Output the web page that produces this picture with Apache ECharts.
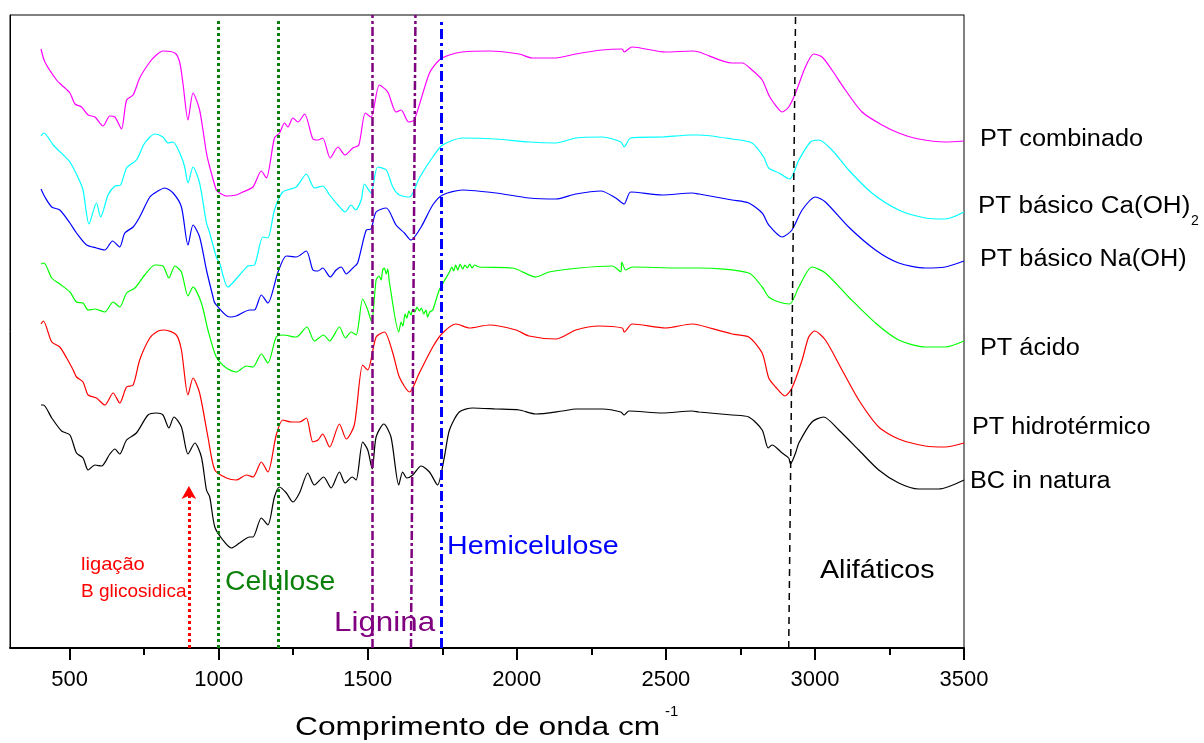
<!DOCTYPE html>
<html>
<head>
<meta charset="utf-8">
<script src="https://cdn.jsdelivr.net/npm/echarts@6/dist/echarts.min.js"></script>
<style>
  html, body { margin: 0; padding: 0; background: #ffffff; }
  #chart { width: 1204px; height: 743px; }
</style>
</head>
<body>
<div id="chart"></div>
<script>
// FTIR spectra, wavenumber (cm-1) vs. stacked transmittance (arbitrary units)
const wavenumberMajorTicks = [500, 1000, 1500, 2000, 2500, 3000, 3500];
const wavenumberMinorTicks = [750, 1250, 1750, 2250, 2750, 3250];

const ptCombinado = [
  [404, 599], [417, 586], [456, 568], [473, 563], [501, 555], [518, 544], [540, 541], [562, 533],
  [585, 531], [612, 522], [635, 532], [652, 531], [674, 519], [691, 548], [713, 553], [735, 570],
  [769, 586], [791, 593], [813, 597], [853, 595], [869, 586], [880, 565], [897, 528], [914, 555],
  [936, 538], [959, 495], [970, 481], [992, 458], [1003, 455], [1026, 452], [1059, 453], [1081, 456],
  [1115, 461], [1143, 477], [1160, 470], [1187, 510], [1204, 515], [1221, 525], [1232, 521], [1249, 530],
  [1266, 526], [1288, 534], [1316, 509], [1333, 508], [1349, 510], [1374, 490], [1400, 501], [1424, 493],
  [1450, 500], [1470, 503], [1492, 535], [1511, 531], [1539, 563], [1567, 556], [1595, 536], [1612, 538],
  [1637, 526], [1656, 528], [1707, 575], [1740, 588], [1774, 593], [1817, 596], [1908, 597], [2008, 594],
  [2052, 590], [2131, 590], [2198, 594], [2286, 598], [2353, 599], [2360, 596], [2386, 601], [2499, 596],
  [2587, 597], [2611, 596], [2722, 585], [2756, 585], [2789, 578], [2823, 568], [2845, 553], [2862, 545],
  [2890, 536], [2912, 541], [2935, 555], [2968, 581], [2996, 594], [3024, 591], [3057, 578], [3102, 558],
  [3158, 536], [3225, 523], [3281, 515], [3348, 509], [3437, 506], [3500, 507]
];

const ptBasicoCaOH2 = [
  [404, 512], [414, 515], [445, 503], [479, 493], [501, 486], [529, 470], [545, 458], [565, 424],
  [590, 445], [604, 431], [629, 453], [652, 462], [671, 463], [691, 480], [724, 488], [752, 505],
  [786, 514], [813, 511], [830, 505], [847, 506], [875, 491], [886, 481], [897, 465], [914, 481],
  [936, 465], [959, 425], [970, 415], [992, 391], [1003, 385], [1031, 361], [1070, 373], [1098, 382],
  [1120, 383], [1148, 411], [1165, 410], [1187, 438], [1215, 456], [1260, 461], [1294, 474], [1321, 460],
  [1349, 462], [1372, 453], [1400, 443], [1424, 436], [1444, 443], [1459, 438], [1478, 448], [1489, 464],
  [1511, 455], [1533, 481], [1562, 478], [1584, 461], [1606, 453], [1640, 451], [1673, 470], [1718, 491],
  [1751, 503], [1818, 510], [1930, 509], [2041, 506], [2131, 505], [2198, 510], [2287, 511], [2349, 506],
  [2360, 501], [2382, 510], [2488, 511], [2588, 513], [2611, 513], [2722, 509], [2789, 505], [2828, 491],
  [2845, 480], [2879, 475], [2915, 469], [2946, 488], [2985, 506], [3013, 508], [3057, 498], [3113, 478],
  [3191, 455], [3281, 438], [3370, 430], [3437, 429], [3500, 436]
];

const ptBasicoNaOH = [
  [404, 459], [417, 451], [440, 441], [467, 438], [501, 425], [523, 415], [557, 403], [590, 400],
  [618, 398], [644, 407], [668, 401], [685, 415], [713, 421], [735, 431], [769, 451], [791, 456],
  [819, 460], [847, 455], [875, 441], [897, 403], [914, 423], [936, 411], [959, 378], [981, 351],
  [987, 345], [1037, 331], [1059, 332], [1104, 338], [1120, 338], [1143, 353], [1165, 345], [1199, 376],
  [1227, 392], [1260, 391], [1294, 397], [1316, 378], [1333, 377], [1349, 380], [1374, 371], [1394, 378],
  [1411, 381], [1428, 374], [1450, 380], [1466, 385], [1495, 418], [1511, 419], [1528, 436], [1562, 440],
  [1595, 423], [1623, 415], [1645, 408], [1679, 421], [1718, 443], [1751, 453], [1818, 458], [1930, 455],
  [2041, 450], [2131, 449], [2198, 454], [2282, 457], [2332, 450], [2360, 444], [2382, 456], [2488, 453],
  [2588, 455], [2611, 454], [2722, 448], [2778, 445], [2823, 435], [2845, 423], [2890, 411], [2923, 418],
  [2957, 438], [3002, 451], [3035, 446], [3113, 421], [3203, 398], [3281, 385], [3370, 380], [3437, 381],
  [3500, 387]
];

const ptAcido = [
  [404, 384], [414, 385], [440, 370], [467, 364], [501, 356], [523, 346], [545, 345], [562, 338],
  [585, 339], [618, 336], [646, 346], [668, 341], [691, 355], [719, 360], [752, 373], [786, 383],
  [813, 382], [833, 370], [853, 382], [875, 376], [897, 352], [914, 361], [942, 345], [964, 318],
  [992, 291], [1026, 280], [1059, 276], [1093, 282], [1115, 281], [1143, 294], [1165, 285], [1193, 311],
  [1215, 313], [1260, 311], [1296, 321], [1321, 307], [1352, 313], [1372, 307], [1405, 321], [1425, 310],
  [1444, 316], [1461, 313], [1483, 349], [1500, 338], [1513, 326], [1528, 368], [1538, 372], [1545, 368],
  [1550, 378], [1556, 380], [1562, 374], [1567, 379], [1573, 365], [1604, 316], [1612, 326], [1618, 322],
  [1625, 334], [1631, 330], [1638, 337], [1645, 333], [1651, 339], [1658, 336], [1665, 341], [1673, 337],
  [1680, 340], [1688, 334], [1695, 338], [1701, 331], [1708, 336], [1718, 338], [1740, 358], [1774, 376],
  [1782, 381], [1788, 377], [1795, 383], [1802, 378], [1810, 384], [1818, 379], [1826, 383], [1834, 380],
  [1842, 384], [1850, 380], [1858, 383], [1874, 381], [1986, 380], [2064, 371], [2108, 376], [2209, 380],
  [2320, 382], [2349, 376], [2352, 386], [2365, 378], [2387, 381], [2544, 380], [2611, 380], [2778, 375],
  [2823, 361], [2845, 351], [2879, 346], [2915, 344], [2946, 361], [2990, 381], [3035, 375], [3113, 351],
  [3203, 325], [3281, 308], [3370, 301], [3437, 301], [3500, 307]
];

const ptHidrotermico = [
  [404, 324], [412, 327], [440, 306], [467, 301], [490, 290], [512, 278], [523, 271], [545, 266],
  [562, 253], [590, 250], [618, 243], [646, 255], [668, 245], [691, 261], [713, 263], [735, 288],
  [769, 310], [797, 317], [819, 318], [858, 313], [875, 298], [897, 253], [914, 270], [936, 255],
  [964, 211], [987, 178], [1026, 170], [1059, 168], [1093, 173], [1115, 171], [1143, 186], [1165, 176],
  [1193, 213], [1215, 228], [1243, 226], [1271, 226], [1294, 230], [1316, 206], [1333, 208], [1349, 214],
  [1372, 201], [1405, 224], [1428, 209], [1455, 223], [1483, 283], [1500, 278], [1528, 311], [1556, 316],
  [1584, 295], [1606, 271], [1640, 256], [1673, 275], [1718, 301], [1751, 315], [1796, 324], [1841, 320],
  [1908, 323], [1997, 318], [2041, 312], [2131, 309], [2198, 318], [2276, 322], [2354, 320], [2360, 316],
  [2387, 324], [2499, 320], [2588, 324], [2611, 323], [2722, 314], [2778, 311], [2823, 295], [2845, 270],
  [2868, 261], [2899, 252], [2923, 260], [2957, 288], [2979, 311], [2999, 317], [3035, 308], [3091, 278],
  [3147, 248], [3214, 221], [3281, 209], [3370, 202], [3437, 201], [3500, 205]
];

const bcInNatura = [
  [404, 243], [412, 243], [440, 230], [473, 217], [501, 213], [523, 195], [545, 190], [562, 178],
  [585, 183], [607, 182], [635, 194], [652, 199], [668, 194], [691, 208], [724, 215], [763, 233],
  [791, 235], [813, 233], [833, 220], [850, 231], [875, 221], [897, 194], [920, 205], [942, 191],
  [959, 158], [970, 151], [987, 121], [1014, 108], [1042, 100], [1070, 105], [1104, 111], [1115, 111],
  [1143, 130], [1165, 123], [1187, 151], [1204, 161], [1227, 155], [1249, 146], [1271, 155], [1299, 175],
  [1321, 163], [1352, 171], [1377, 160], [1405, 176], [1424, 165], [1448, 171], [1461, 168], [1483, 206],
  [1500, 198], [1515, 179], [1528, 211], [1554, 224], [1578, 211], [1604, 163], [1617, 176], [1631, 170],
  [1651, 173], [1679, 182], [1707, 176], [1734, 163], [1757, 191], [1774, 218], [1807, 236], [1852, 240],
  [1930, 239], [2008, 238], [2064, 234], [2153, 237], [2198, 239], [2287, 239], [2349, 236], [2360, 233],
  [2376, 237], [2488, 235], [2588, 237], [2611, 236], [2722, 233], [2778, 231], [2823, 218], [2843, 200],
  [2856, 203], [2890, 195], [2912, 190], [2918, 184], [2935, 195], [2946, 205], [2990, 226], [3029, 231],
  [3080, 218], [3147, 198], [3214, 178], [3281, 165], [3348, 159], [3415, 159], [3500, 168]
];

// Band assignments: [wavenumber at baseline, wavenumber at top, top height]
const glicosidicBand = [900, 900, 162];
const celuloseBands = [[1000, 1000, 630], [1200, 1200, 630]];
const ligninaBands = [[1515, 1515, 633], [1645, 1660, 633]];
const hemiceluloseBand = [1748, 1748, 628];
const alifaticosBand = [2912, 2935, 633];

const FONT = '"Liberation Sans", Arial, Helvetica, sans-serif';

const spectra = [
  { name: 'BC in natura', data: bcInNatura, color: '#000000' },
  { name: 'PT hidrotérmico', data: ptHidrotermico, color: '#ff0000' },
  { name: 'PT ácido', data: ptAcido, color: '#00ff00' },
  { name: 'PT básico Na(OH)', data: ptBasicoNaOH, color: '#0000ff' },
  { name: 'PT básico Ca(OH)2', data: ptBasicoCaOH2, color: '#00ffff' },
  { name: 'PT combinado', data: ptCombinado, color: '#ff00ff' }
];

function vline(band, color, width, dash) {
  return [
    { coord: [band[0], 0], lineStyle: { color: color, width: width, type: dash, cap: 'butt' } },
    { coord: [band[1], band[2]] }
  ];
}

const markerLines = [
  [
    { coord: [glicosidicBand[0], 0], lineStyle: { color: '#ff0000', width: 3, type: [3, 3], cap: 'butt' } },
    { coord: [glicosidicBand[1], glicosidicBand[2]], symbol: 'arrow', symbolSize: [11, 13] }
  ],
  vline(celuloseBands[0], '#0a800a', 3, [3, 3]),
  vline(celuloseBands[1], '#0a800a', 3, [3, 3]),
  vline(ligninaBands[0], '#800080', 2.5, [9, 3, 3, 3]),
  vline(ligninaBands[1], '#800080', 2.5, [9, 3, 3, 3]),
  vline(hemiceluloseBand, '#0000ff', 3, [10, 4, 3, 4]),
  vline(alifaticosBand, '#000000', 1.5, [7, 5])
];

const series = spectra.map(function (s, i) {
  const item = {
    name: s.name,
    type: 'line',
    data: s.data,
    showSymbol: false,
    smooth: 0.25,
    lineStyle: { color: s.color, width: 1.2 },
    itemStyle: { color: s.color },
    clip: false,
    z: 3
  };
  if (i === 0) {
    item.markLine = {
      silent: true,
      symbol: ['none', 'none'],
      label: { show: false },
      emphasis: { disabled: true },
      animation: false,
      data: markerLines
    };
  }
  return item;
});

function txt(text, x, y, color, size, sx, align) {
  return {
    type: 'text',
    x: x, y: y,
    scaleX: sx,
    silent: true,
    z: 10,
    style: {
      text: text,
      fill: color,
      font: size + 'px ' + FONT,
      align: align || 'left',
      verticalAlign: 'middle',
      textAlign: align || 'left',
      textVerticalAlign: 'middle'
    }
  };
}

const graphics = [
  // spectrum labels
  txt('PT combinado', 980, 140, '#000', 23, 1.1),
  txt('PT básico Ca(OH)', 978, 207, '#000', 23, 1.13),
  txt('2', 1191, 221, '#000', 14, 1.0),
  txt('PT básico Na(OH)', 980, 260, '#000', 23, 1.1),
  txt('PT ácido', 980, 349, '#000', 23, 1.1),
  txt('PT hidrotérmico', 972, 428, '#000', 23, 1.1),
  txt('BC in natura', 970, 482, '#000', 23, 1.1),
  // band annotations
  txt('ligação', 81, 565, '#ff0000', 19, 1.06),
  txt('B glicosidica', 81, 592, '#ff0000', 19, 1.0),
  txt('Celulose', 225, 583, '#0a800a', 27, 1.05),
  txt('Lignina', 334, 623, '#800080', 28, 1.12),
  txt('Hemicelulose', 447, 547, '#0000ff', 26, 1.1),
  txt('Alifáticos', 820, 571, '#000', 26, 1.1),
  // axis title
  txt('Comprimento de onda cm', 295, 728, '#000', 25, 1.27),
  txt('-1', 665, 712, '#000', 15, 1.0)
];

const chart = echarts.init(document.getElementById('chart'), null, { renderer: 'canvas' });
chart.setOption({
  animation: false,
  backgroundColor: '#ffffff',
  grid: {
    left: 10, right: 240, top: 15, bottom: 95,
    show: true, borderColor: '#000000', borderWidth: 1, backgroundColor: 'transparent'
  },
  xAxis: [
    {
      type: 'value', min: 300, max: 3500, position: 'bottom',
      axisLine: { show: true, onZero: false, lineStyle: { color: '#000', width: 2 } },
      axisTick: { show: true, customValues: wavenumberMajorTicks, length: 12, lineStyle: { color: '#000', width: 2 } },
      axisLabel: {
        show: true, customValues: wavenumberMajorTicks, fontSize: 22, fontFamily: FONT, color: '#000', margin: 21,
        formatter: function (v) { return String(v); }
      },
      splitLine: { show: false }
    },
    {
      type: 'value', min: 300, max: 3500, position: 'bottom',
      axisLine: { show: false },
      axisTick: { show: true, customValues: wavenumberMinorTicks, length: 7, lineStyle: { color: '#000', width: 2 } },
      axisLabel: { show: false },
      splitLine: { show: false }
    }
  ],
  yAxis: [
    {
      type: 'value', min: 0, max: 633, position: 'left',
      axisLine: { show: true, onZero: false, lineStyle: { color: '#000', width: 1 } },
      axisTick: { show: false }, axisLabel: { show: false }, splitLine: { show: false }
    },
    {
      type: 'value', min: 0, max: 633, position: 'right',
      axisLine: { show: true, onZero: false, lineStyle: { color: '#808080', width: 1 } },
      axisTick: { show: false }, axisLabel: { show: false }, splitLine: { show: false }
    }
  ],
  series: series,
  graphic: graphics
});
</script>
</body>
</html>
